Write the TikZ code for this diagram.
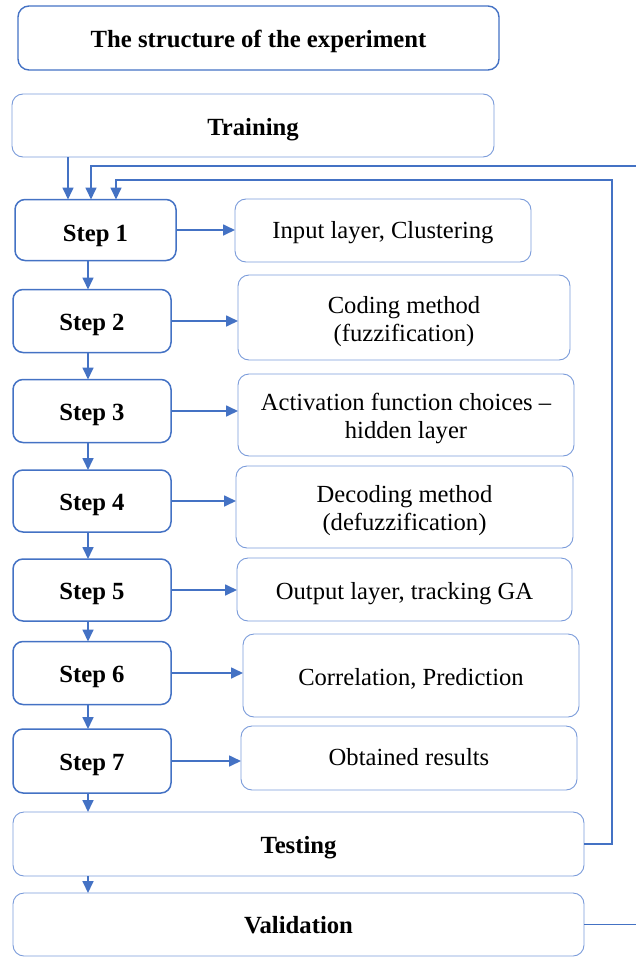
\documentclass[tikz,border=0pt]{standalone}
\usepackage{fontspec}
\setmainfont{Liberation Serif}
\usetikzlibrary{arrows.meta,calc}
\definecolor{edge}{HTML}{4472C4}
\definecolor{softedge}{HTML}{7A9BDA}
% centred lines, set a little below the middle of their box
\newcommand\lowtext[2][4pt]{\raisebox{-#1}[\height][\depth]{\begin{tabular}{@{}c@{}}#2\end{tabular}}}
\begin{document}
\begin{tikzpicture}[x=1pt,y=-1pt,
  box/.style={rounded corners=11pt, inner sep=0pt, outer sep=0pt},
  stepbox/.style={box, draw=edge, line width=1.5pt, rounded corners=10pt,
    minimum width=158pt, minimum height=63pt, font=\fontsize{24.7}{29}\selectfont\bfseries},
  infobox/.style={box, draw=softedge, line width=0.9pt, font=\fontsize{24.6}{28}\selectfont},
  headbox/.style={box, draw=softedge, line width=0.9pt, font=\fontsize{24.7}{29}\selectfont\bfseries},
  link/.style={draw=edge, line width=1.7pt, -{Triangle[length=12pt,width=11pt]}},
  plain/.style={draw=edge, line width=1.7pt}]
\useasboundingbox (0,0) rectangle (636,958);

% headers
\node[headbox, draw=edge, line width=1.4pt, minimum width=481pt, minimum height=64pt] (title) at (258.5,38) {\lowtext{The structure of the experiment}};
\node[headbox, minimum width=482pt, minimum height=63pt] (train) at (253,125.5) {\lowtext{Training}};

% the seven steps
\node[stepbox, minimum width=161pt, minimum height=61pt] (s1) at (95.5,230) {\lowtext[6pt]{Step 1}};
\node[stepbox] (s2) at (92,321) {\lowtext{Step 2}};
\node[stepbox] (s3) at (92,411) {\lowtext{Step 3}};
\node[stepbox, minimum height=62pt] (s4) at (92,501) {\lowtext{Step 4}};
\node[stepbox, minimum height=62pt] (s5) at (92,590) {\lowtext{Step 5}};
\node[stepbox] (s6) at (92,673) {\lowtext{Step 6}};
\node[stepbox, minimum height=64pt] (s7) at (92,761) {\lowtext{Step 7}};

% descriptions
\node[infobox, minimum width=296pt, minimum height=63pt] (r1) at (383,230.5) {\lowtext[2pt]{Input layer, Clustering}};
\node[infobox, minimum width=332pt, minimum height=85pt] (r2) at (404,317.5) {\lowtext{Coding method\\(fuzzification)}};
\node[infobox, minimum width=336pt, minimum height=82pt] (r3) at (406,415) {\lowtext{Activation function choices --\\hidden layer}};
\node[infobox, minimum width=337pt, minimum height=82pt] (r4) at (404.5,507) {\lowtext{Decoding method\\(defuzzification)}};
\node[infobox, minimum width=335pt, minimum height=63pt] (r5) at (404.5,589.5) {\lowtext{Output layer, tracking GA}};
\node[infobox, minimum width=336pt, minimum height=83pt] (r6) at (411,675.5) {\lowtext{Correlation, Prediction}};
\node[infobox, minimum width=336pt, minimum height=64pt] (r7) at (409,758) {\lowtext[2pt]{Obtained results}};

% final stages
\node[headbox, minimum width=571pt, minimum height=64pt] (test) at (298.5,844) {\lowtext{Testing}};
\node[headbox, minimum width=571pt, minimum height=63pt] (val) at (298.5,924.5) {\lowtext[3pt]{Validation}};

% column guides for the vertical connectors
\coordinate (xa) at (68,0);
\coordinate (xb) at (91,0);
\coordinate (xc) at (116,0);
\coordinate (xd) at (88,0);
\coordinate (rim) at (636,0);
\coordinate (vin) at (636,166);
\coordinate (tr) at (612,180);

% main flow
\draw[link] (train.south -| xa) -- (s1.north -| xa);
\draw[link] (s1.south -| xd) -- (s2.north -| xd);
\draw[link] (s2.south -| xd) -- (s3.north -| xd);
\draw[link] (s3.south -| xd) -- (s4.north -| xd);
\draw[link] (s4.south -| xd) -- (s5.north -| xd);
\draw[link] (s5.south -| xd) -- (s6.north -| xd);
\draw[link] (s6.south -| xd) -- (s7.north -| xd);
\draw[link] (s7.south -| xd) -- (test.north -| xd);
\draw[link] (test.south -| xd) -- (val.north -| xd);

% step descriptions
\foreach \i in {1,...,7}
  \draw[link] (s\i.east) -- (s\i.east -| r\i.west);

% feedback loops
\draw[plain] (val.east) -- (val.east -| rim);
\draw[link] (vin) -- (vin -| xb) -- (s1.north -| xb);
\draw[link] (test.east) -| (tr) -- (tr -| xc) -- (s1.north -| xc);
\end{tikzpicture}
\end{document}
